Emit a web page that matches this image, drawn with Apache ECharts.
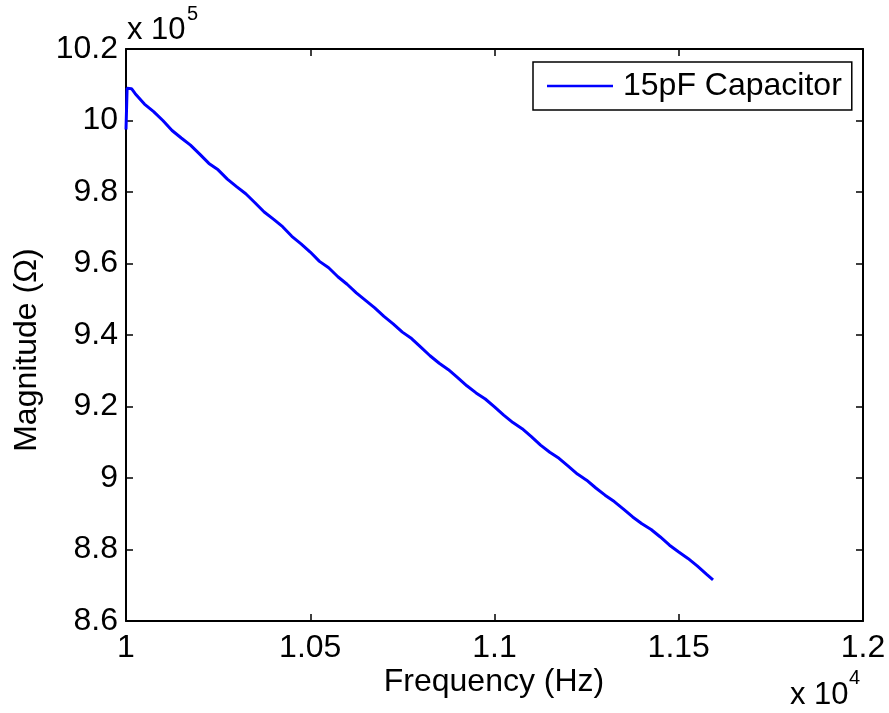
<!DOCTYPE html>
<html>
<head>
<meta charset="utf-8">
<script src="https://cdn.jsdelivr.net/npm/echarts@6/dist/echarts.min.js"></script>
<style>html,body{margin:0;padding:0;background:#fff}#c{width:889px;height:713px}</style>
</head>
<body>
<div id="c"></div>
<script>
// Frequency (Hz) and magnitude (x 10^5 Ohm)
var freq = [10000, 10003, 10015, 10025, 10050, 10075, 10100, 10125, 10150, 10175, 10200, 10225, 10250, 10275, 10300, 10325, 10350, 10375, 10400, 10425, 10450, 10475, 10500, 10525, 10550, 10575, 10600, 10625, 10650, 10675, 10700, 10725, 10750, 10775, 10800, 10825, 10850, 10875, 10900, 10925, 10950, 10975, 11000, 11025, 11050, 11075, 11100, 11125, 11150, 11175, 11200, 11225, 11250, 11275, 11300, 11325, 11350, 11375, 11400, 11425, 11450, 11475, 11500, 11525, 11550, 11575, 11593];
var magnitude = [9.975, 10.090, 10.089, 10.075, 10.046, 10.025, 10.000, 9.972, 9.951, 9.931, 9.906, 9.880, 9.862, 9.836, 9.815, 9.795, 9.770, 9.744, 9.724, 9.703, 9.676, 9.655, 9.632, 9.606, 9.588, 9.563, 9.542, 9.518, 9.497, 9.476, 9.452, 9.431, 9.408, 9.390, 9.366, 9.342, 9.321, 9.303, 9.281, 9.258, 9.238, 9.221, 9.199, 9.176, 9.155, 9.138, 9.116, 9.092, 9.072, 9.055, 9.033, 9.011, 8.994, 8.972, 8.952, 8.934, 8.913, 8.891, 8.872, 8.856, 8.835, 8.812, 8.793, 8.775, 8.754, 8.731, 8.715];
var xTicks = [1, 1.05, 1.1, 1.15, 1.2];
var yTicks = [8.6, 8.8, 9, 9.2, 9.4, 9.6, 9.8, 10, 10.2];
var seriesName = '15pF Capacitor';

var pts = freq.map(function (f, i) { return [f, magnitude[i]]; });
var FONT = 'Liberation Sans';
var FS = 32;
var chart = echarts.init(document.getElementById('c'), null, { renderer: 'canvas' });
function xLab(v) { var t = v / 10000; return String(Math.round(t * 100) / 100); }
function yLab(v) { return String(Math.round(v * 10) / 10); }
var axisLine = { show: true, onZero: false, lineStyle: { color: '#000', width: 2 } };
var tick = { show: true, inside: true, length: 7, lineStyle: { color: '#000', width: 1.5 } };
chart.setOption({
  animation: false,
  backgroundColor: '#fff',
  grid: { left: 126, top: 49, right: 26, bottom: 92, containLabel: false },
  xAxis: [{
    type: 'value', min: 10000, max: 12000, interval: 500, position: 'bottom',
    axisLine: axisLine, axisTick: tick,
    axisLabel: { color: '#000', fontFamily: FONT, fontSize: FS, margin: 11, formatter: xLab },
    splitLine: { show: false }
  }, {
    type: 'value', min: 10000, max: 12000, interval: 500, position: 'top',
    axisLine: axisLine, axisTick: tick,
    axisLabel: { show: false }, splitLine: { show: false }
  }],
  yAxis: [{
    type: 'value', min: 8.6, max: 10.2, interval: 0.2, position: 'left',
    axisLine: axisLine, axisTick: tick,
    axisLabel: { color: '#000', fontFamily: FONT, fontSize: FS, margin: 8, formatter: yLab },
    splitLine: { show: false }
  }, {
    type: 'value', min: 8.6, max: 10.2, interval: 0.2, position: 'right',
    axisLine: axisLine, axisTick: tick,
    axisLabel: { show: false }, splitLine: { show: false }
  }],
  legend: {
    show: true, left: 533, top: 62, orient: 'vertical',
    borderColor: '#000', borderWidth: 1.5, padding: [8, 10, 8, 14],
    itemWidth: 66, itemHeight: 10, itemGap: 8,
    textStyle: { color: '#000', fontFamily: FONT, fontSize: FS, padding: [0, 0, 0, 5] },
    icon: 'path://M0,4 L66,4 L66,6.5 L0,6.5 Z',
    data: [{ name: seriesName, itemStyle: { color: '#0000ff' } }]
  },
  series: [{
    name: seriesName, type: 'line', data: pts, showSymbol: false,
    lineStyle: { color: '#0000ff', width: 3 }, itemStyle: { color: '#0000ff' },
    smooth: false
  }],
  graphic: [
    { type: 'text', left: 127, top: 15, style: { text: 'x 10', fontFamily: FONT, fontSize: 31, fill: '#000' } },
    { type: 'text', left: 187, top: 4, style: { text: '5', fontFamily: FONT, fontSize: 20, fill: '#000' } },
    { type: 'text', left: 790, top: 680, style: { text: 'x 10', fontFamily: FONT, fontSize: 31, fill: '#000' } },
    { type: 'text', left: 849, top: 668, style: { text: '4', fontFamily: FONT, fontSize: 20, fill: '#000' } },
    { type: 'text', x: 494, y: 682, style: { text: 'Frequency (Hz)', fontFamily: FONT, fontSize: FS, fill: '#000', align: 'center', verticalAlign: 'middle' } },
    { type: 'text', x: 27, y: 350, rotation: Math.PI / 2, style: { text: 'Magnitude (Ω)', fontFamily: FONT, fontSize: FS, fill: '#000', align: 'center', verticalAlign: 'middle' } }
  ]
});
</script>
</body>
</html>
